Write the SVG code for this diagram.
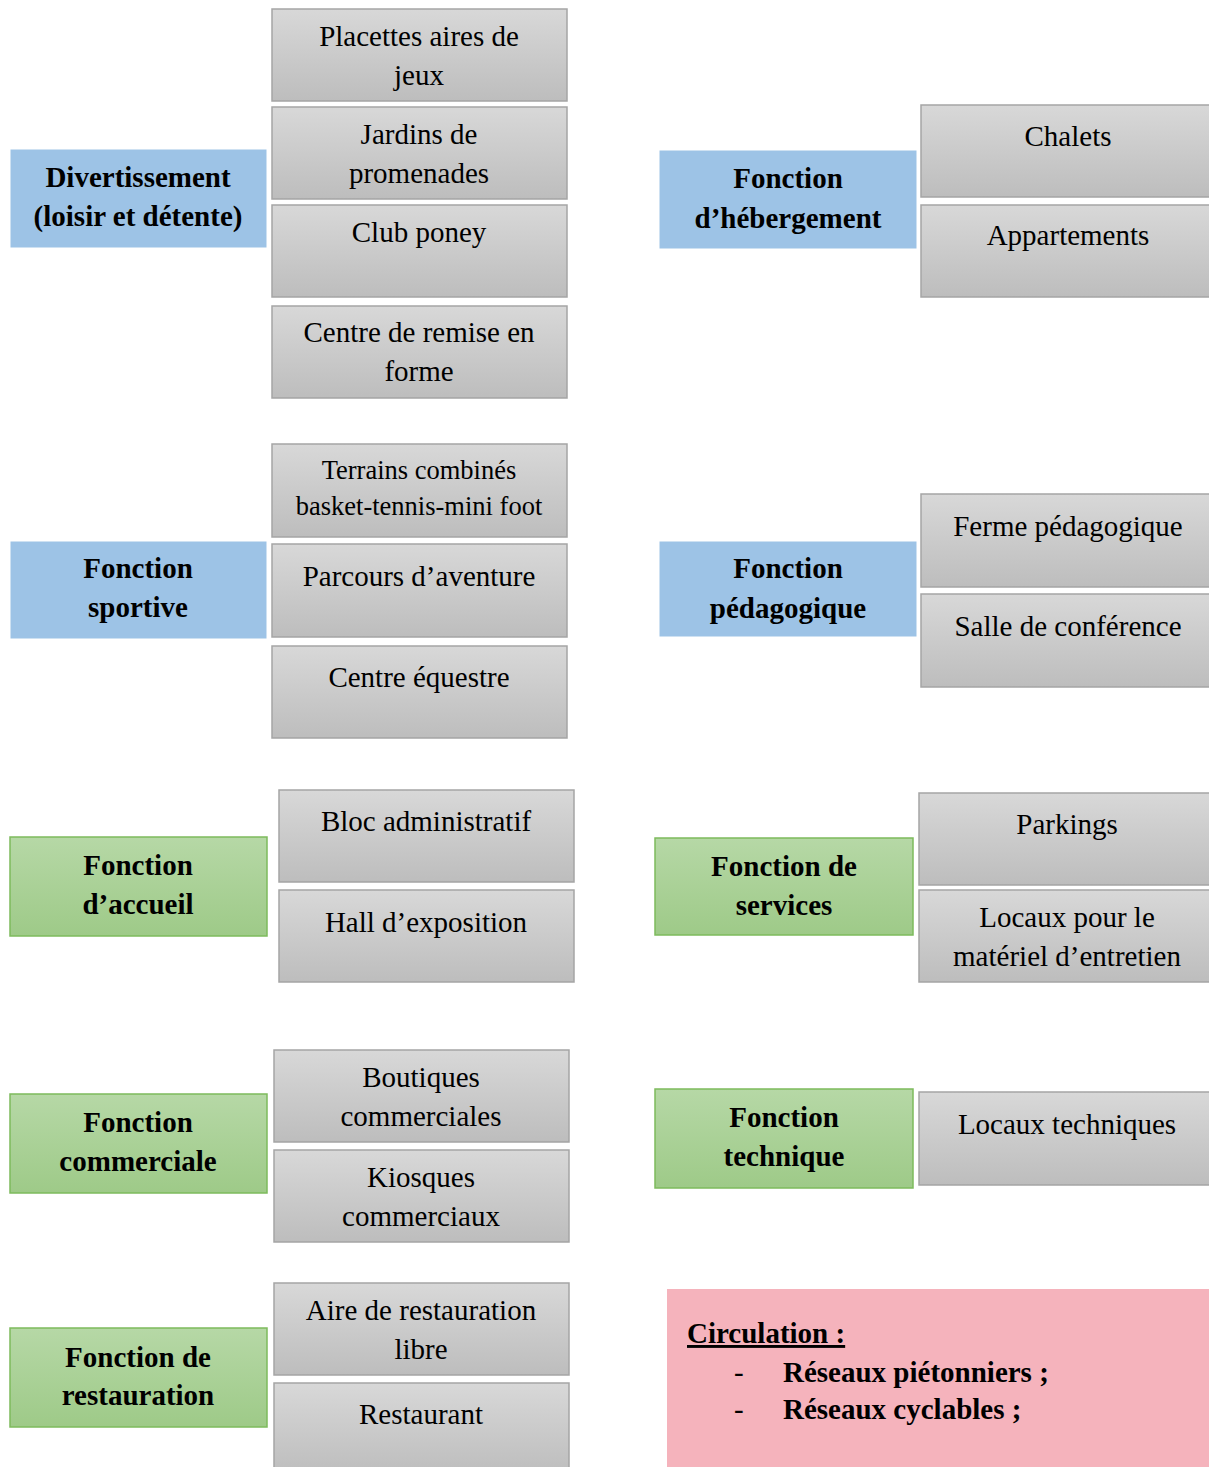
<svg xmlns="http://www.w3.org/2000/svg" width="1209" height="1467" viewBox="0 0 1209 1467">
<defs>
<linearGradient id="gGray" x1="0" y1="0" x2="0" y2="1">
<stop offset="0" stop-color="#D8D8D8"/><stop offset="1" stop-color="#BDBDBD"/>
</linearGradient>
<linearGradient id="gGreen" x1="0" y1="0" x2="0" y2="1">
<stop offset="0" stop-color="#B6D8A6"/><stop offset="1" stop-color="#9ECA88"/>
</linearGradient>
</defs>
<style>
text{font-family:"Liberation Serif","Times New Roman",serif;fill:#000;text-anchor:middle}
.item{fill:url(#gGray);stroke:#A5A5A5;stroke-width:1.5}
.blue{fill:#9DC3E6;stroke:#9DC3E6}
.green{fill:url(#gGreen);stroke:#7DBB5C;stroke-width:1.5}
.t{font-size:29px}
.ts{font-size:26.5px}
.h{font-size:29px;font-weight:bold}
</style>
<rect width="1209" height="1467" fill="#FFFFFF"/>

<g id="n-divertissement"><rect class="blue" x="11" y="150" width="255" height="97"/><text class="h" x="138" y="187">Divertissement</text><text class="h" x="138" y="226">(loisir et détente)</text></g>
<g id="n-placettes"><rect class="item" x="272" y="9" width="295" height="92"/><text class="t" x="419" y="46">Placettes aires de</text><text class="t" x="419" y="85">jeux</text></g>
<g id="n-jardins"><rect class="item" x="272" y="107" width="295" height="92"/><text class="t" x="419" y="144">Jardins de</text><text class="t" x="419" y="183">promenades</text></g>
<g id="n-poney"><rect class="item" x="272" y="205" width="295" height="92"/><text class="t" x="419" y="242">Club poney</text></g>
<g id="n-remise"><rect class="item" x="272" y="306" width="295" height="92"/><text class="t" x="419" y="342">Centre de remise en</text><text class="t" x="419" y="381">forme</text></g>

<g id="n-hebergement"><rect class="blue" x="660" y="151" width="256" height="97"/><text class="h" x="788" y="188">Fonction</text><text class="h" x="788" y="228">d’hébergement</text></g>
<g id="n-chalets"><rect class="item" x="921" y="105" width="295" height="92"/><text class="t" x="1068" y="146">Chalets</text></g>
<g id="n-appartements"><rect class="item" x="921" y="205" width="295" height="92"/><text class="t" x="1068" y="245">Appartements</text></g>

<g id="n-sportive"><rect class="blue" x="11" y="542" width="255" height="96"/><text class="h" x="138" y="578">Fonction</text><text class="h" x="138" y="617">sportive</text></g>
<g id="n-terrains"><rect class="item" x="272" y="444" width="295" height="93"/><text class="ts" x="419" y="479">Terrains combinés</text><text class="ts" x="419" y="515">basket-tennis-mini foot</text></g>
<g id="n-parcours"><rect class="item" x="272" y="544" width="295" height="93"/><text class="t" x="419" y="586">Parcours d’aventure</text></g>
<g id="n-equestre"><rect class="item" x="272" y="646" width="295" height="92"/><text class="t" x="419" y="687">Centre équestre</text></g>

<g id="n-pedagogique"><rect class="blue" x="660" y="542" width="256" height="94"/><text class="h" x="788" y="578">Fonction</text><text class="h" x="788" y="618">pédagogique</text></g>
<g id="n-ferme"><rect class="item" x="921" y="494" width="295" height="93"/><text class="t" x="1068" y="536">Ferme pédagogique</text></g>
<g id="n-salle"><rect class="item" x="921" y="594" width="295" height="93"/><text class="t" x="1068" y="636">Salle de conférence</text></g>

<g id="n-accueil"><rect class="green" x="10" y="837" width="257" height="99"/><text class="h" x="138" y="875">Fonction</text><text class="h" x="138" y="914">d’accueil</text></g>
<g id="n-bloc"><rect class="item" x="279" y="790" width="295" height="92"/><text class="t" x="426" y="831">Bloc administratif</text></g>
<g id="n-hall"><rect class="item" x="279" y="890" width="295" height="92"/><text class="t" x="426" y="932">Hall d’exposition</text></g>

<g id="n-services"><rect class="green" x="655" y="838" width="258" height="97"/><text class="h" x="784" y="876">Fonction de</text><text class="h" x="784" y="915">services</text></g>
<g id="n-parkings"><rect class="item" x="919" y="793" width="295" height="92"/><text class="t" x="1067" y="834">Parkings</text></g>
<g id="n-locaux-entretien"><rect class="item" x="919" y="890" width="295" height="92"/><text class="t" x="1067" y="927">Locaux pour le</text><text class="t" x="1067" y="966">matériel d’entretien</text></g>

<g id="n-commerciale"><rect class="green" x="10" y="1094" width="257" height="99"/><text class="h" x="138" y="1132">Fonction</text><text class="h" x="138" y="1171">commerciale</text></g>
<g id="n-boutiques"><rect class="item" x="274" y="1050" width="295" height="92"/><text class="t" x="421" y="1087">Boutiques</text><text class="t" x="421" y="1126">commerciales</text></g>
<g id="n-kiosques"><rect class="item" x="274" y="1150" width="295" height="92"/><text class="t" x="421" y="1187">Kiosques</text><text class="t" x="421" y="1226">commerciaux</text></g>

<g id="n-technique"><rect class="green" x="655" y="1089" width="258" height="99"/><text class="h" x="784" y="1127">Fonction</text><text class="h" x="784" y="1166">technique</text></g>
<g id="n-locaux-techniques"><rect class="item" x="919" y="1092" width="295" height="93"/><text class="t" x="1067" y="1134">Locaux techniques</text></g>

<g id="n-restauration"><rect class="green" x="10" y="1328" width="257" height="99"/><text class="h" x="138" y="1367">Fonction de</text><text class="h" x="138" y="1405">restauration</text></g>
<g id="n-aire"><rect class="item" x="274" y="1283" width="295" height="92"/><text class="t" x="421" y="1320">Aire de restauration</text><text class="t" x="421" y="1359">libre</text></g>
<g id="n-restaurant"><rect class="item" x="274" y="1383" width="295" height="92"/><text class="t" x="421" y="1424">Restaurant</text></g>

<g id="n-circulation"><rect x="667" y="1289" width="550" height="185" fill="#F5B3BC"/>
<text class="h" x="687" y="1343" style="text-anchor:start;text-decoration:underline">Circulation :</text>
<text class="t" x="734" y="1382" style="text-anchor:start">-</text>
<text class="h" x="783" y="1382" style="text-anchor:start">Réseaux piétonniers ;</text>
<text class="t" x="734" y="1419" style="text-anchor:start">-</text>
<text class="h" x="783" y="1419" style="text-anchor:start">Réseaux cyclables ;</text>
</g>
<g id="connectors"></g>
</svg>
